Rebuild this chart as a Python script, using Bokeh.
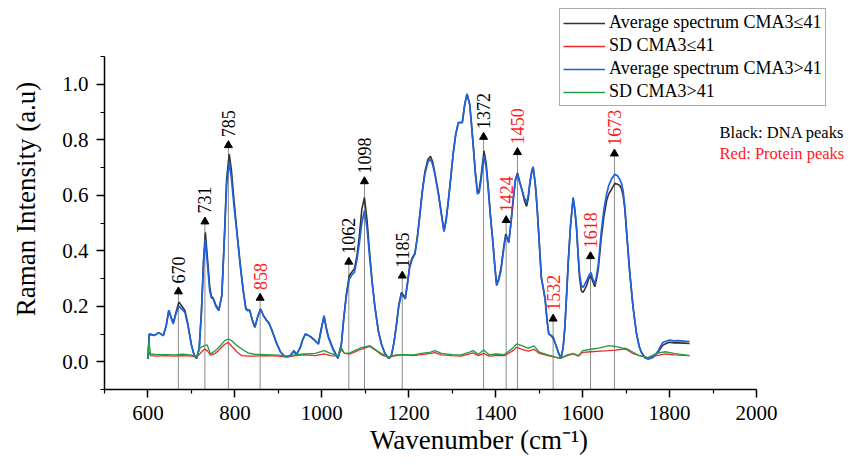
import math
from bokeh.plotting import figure
from bokeh.models import Range1d, FixedTicker, NumeralTickFormatter, Label
from bokeh.embed import file_html
from bokeh.resources import INLINE

# ---------------- data ----------------
wavenumber = [600, 603, 615, 625, 635, 642, 648, 653, 658, 664, 671, 678, 685, 692, 700, 706, 712, 718, 723, 728,
              732, 737, 742, 746, 750, 756, 763, 770, 776, 781, 787, 792, 798, 804, 812, 819, 825, 829, 834, 840,
              846, 852, 859, 866, 873, 878, 884, 895, 905, 915, 926, 931, 936, 941, 950, 956, 962, 969, 976, 985,
              992, 998, 1005, 1010, 1015, 1025, 1037, 1045, 1050, 1056, 1063, 1070, 1075, 1081, 1086, 1092, 1098, 1104, 1110, 1116,
              1122, 1130, 1137, 1145, 1154, 1160, 1166, 1172, 1177, 1183, 1188, 1192, 1197, 1202, 1208, 1214, 1220, 1225, 1231, 1237,
              1244, 1250, 1255, 1260, 1268, 1275, 1281, 1286, 1291, 1297, 1302, 1308, 1314, 1323, 1329, 1334, 1340, 1344, 1348, 1353,
              1358, 1362, 1366, 1373, 1378, 1383, 1388, 1393, 1398, 1402, 1407, 1412, 1418, 1423, 1427, 1430, 1435, 1440, 1445, 1450,
              1455, 1461, 1466, 1471, 1475, 1478, 1483, 1486, 1491, 1495, 1498, 1505, 1510, 1514, 1518, 1522, 1527, 1532, 1536, 1540,
              1545, 1550, 1555, 1559, 1563, 1567, 1572, 1578, 1582, 1586, 1590, 1593, 1597, 1601, 1605, 1609, 1614, 1619, 1623, 1628,
              1632, 1636, 1643, 1649, 1655, 1660, 1666, 1674, 1680, 1685, 1689, 1693, 1697, 1701, 1708, 1716, 1724, 1730, 1735, 1743,
              1751, 1762, 1768, 1774, 1780, 1785, 1792, 1800, 1810, 1820, 1834, 1846]

avg_le41 = [0.01, 0.10, 0.095, 0.105, 0.094, 0.13, 0.186, 0.16, 0.14, 0.175, 0.215, 0.2, 0.185, 0.135, 0.06, 0.025, 0.012, 0.05, 0.18, 0.37,
            0.466, 0.37, 0.27, 0.235, 0.23, 0.205, 0.186, 0.24, 0.46, 0.66, 0.748, 0.69, 0.58, 0.48, 0.355, 0.26, 0.195, 0.185, 0.186, 0.15,
            0.124, 0.16, 0.19, 0.165, 0.15, 0.14, 0.118, 0.07, 0.035, 0.019, 0.02, 0.03, 0.04, 0.025, 0.05, 0.08, 0.1, 0.095, 0.088, 0.075,
            0.064, 0.115, 0.165, 0.125, 0.09, 0.05, 0.012, 0.064, 0.15, 0.24, 0.31, 0.325, 0.335, 0.385, 0.45, 0.55, 0.592, 0.51, 0.39, 0.285,
            0.2, 0.11, 0.064, 0.03, 0.012, 0.022, 0.07, 0.14, 0.205, 0.25, 0.24, 0.23, 0.285, 0.345, 0.375, 0.39, 0.455, 0.525, 0.615, 0.685,
            0.73, 0.74, 0.72, 0.68, 0.61, 0.535, 0.47, 0.515, 0.58, 0.67, 0.748, 0.82, 0.862, 0.862, 0.93, 0.965, 0.929, 0.86, 0.784, 0.685,
            0.61, 0.62, 0.665, 0.76, 0.715, 0.625, 0.525, 0.44, 0.345, 0.28, 0.3, 0.335, 0.41, 0.46, 0.445, 0.43, 0.5, 0.58, 0.655, 0.68,
            0.65, 0.615, 0.58, 0.56, 0.59, 0.635, 0.685, 0.7, 0.64, 0.56, 0.484, 0.3, 0.26, 0.22, 0.15, 0.1, 0.095, 0.085, 0.07, 0.052,
            0.03, 0.012, 0.05, 0.124, 0.24, 0.364, 0.49, 0.59, 0.545, 0.475, 0.37, 0.3, 0.255, 0.25, 0.262, 0.275, 0.3, 0.31, 0.29, 0.27,
            0.3, 0.335, 0.45, 0.525, 0.58, 0.605, 0.62, 0.643, 0.64, 0.635, 0.625, 0.6, 0.55, 0.465, 0.325, 0.195, 0.1, 0.055, 0.034, 0.015,
            0.01, 0.016, 0.026, 0.036, 0.05, 0.06, 0.066, 0.07, 0.068, 0.068, 0.067, 0.066]

avg_gt41 = [0.01, 0.10, 0.095, 0.105, 0.094, 0.13, 0.186, 0.16, 0.136, 0.17, 0.20, 0.19, 0.178, 0.13, 0.06, 0.025, 0.012, 0.05, 0.18, 0.36,
            0.44, 0.35, 0.256, 0.23, 0.227, 0.2, 0.184, 0.24, 0.45, 0.64, 0.718, 0.66, 0.56, 0.472, 0.35, 0.256, 0.19, 0.184, 0.186, 0.15,
            0.124, 0.16, 0.19, 0.165, 0.148, 0.14, 0.118, 0.07, 0.035, 0.019, 0.02, 0.03, 0.04, 0.025, 0.05, 0.08, 0.1, 0.095, 0.088, 0.075,
            0.064, 0.11, 0.166, 0.12, 0.088, 0.046, 0.012, 0.064, 0.15, 0.232, 0.298, 0.315, 0.322, 0.37, 0.424, 0.5, 0.544, 0.48, 0.376, 0.28,
            0.196, 0.11, 0.064, 0.03, 0.012, 0.022, 0.07, 0.136, 0.2, 0.244, 0.235, 0.226, 0.28, 0.34, 0.37, 0.388, 0.45, 0.52, 0.61, 0.676,
            0.72, 0.73, 0.71, 0.676, 0.604, 0.53, 0.47, 0.51, 0.58, 0.67, 0.748, 0.82, 0.862, 0.862, 0.93, 0.965, 0.929, 0.86, 0.784, 0.68,
            0.604, 0.61, 0.652, 0.742, 0.7, 0.616, 0.52, 0.436, 0.34, 0.274, 0.295, 0.328, 0.4, 0.454, 0.44, 0.43, 0.5, 0.58, 0.65, 0.676,
            0.645, 0.616, 0.59, 0.574, 0.6, 0.64, 0.69, 0.703, 0.64, 0.56, 0.484, 0.304, 0.26, 0.22, 0.15, 0.1, 0.095, 0.09, 0.07, 0.052,
            0.03, 0.012, 0.05, 0.124, 0.24, 0.364, 0.49, 0.592, 0.55, 0.484, 0.38, 0.316, 0.274, 0.268, 0.28, 0.292, 0.31, 0.322, 0.3, 0.28,
            0.31, 0.352, 0.472, 0.55, 0.604, 0.635, 0.658, 0.676, 0.67, 0.658, 0.645, 0.616, 0.56, 0.472, 0.328, 0.196, 0.1, 0.055, 0.034, 0.015,
            0.01, 0.016, 0.028, 0.04, 0.058, 0.07, 0.074, 0.078, 0.075, 0.076, 0.074, 0.073]

sd_wavenumber = [600, 602, 606, 620, 640, 660, 680, 700, 712, 720, 730, 736, 744, 755, 765, 776, 785, 793, 805, 816,
                 830, 845, 870, 900, 920, 940, 960, 985, 1005, 1020, 1037, 1045, 1052, 1065, 1075, 1090, 1110, 1125, 1137, 1154,
                 1170, 1190, 1210, 1230, 1250, 1260, 1275, 1300, 1320, 1340, 1348, 1360, 1372, 1385, 1400, 1420, 1440, 1448, 1460, 1475,
                 1488, 1500, 1520, 1548, 1565, 1578, 1590, 1600, 1620, 1640, 1660, 1675, 1690, 1700, 1715, 1730, 1750, 1770, 1790, 1810, 1846]

sd_le41 = [0.01, 0.035, 0.022, 0.02, 0.022, 0.02, 0.022, 0.02, 0.017, 0.03, 0.046, 0.04, 0.024, 0.03, 0.045, 0.062, 0.07, 0.055, 0.035, 0.022,
           0.02, 0.02, 0.022, 0.02, 0.017, 0.022, 0.025, 0.022, 0.028, 0.022, 0.02, 0.043, 0.03, 0.028, 0.035, 0.045, 0.055, 0.04, 0.025, 0.016,
           0.022, 0.025, 0.022, 0.026, 0.03, 0.033, 0.025, 0.022, 0.02, 0.028, 0.032, 0.022, 0.03, 0.02, 0.022, 0.022, 0.04, 0.052, 0.045, 0.038,
           0.045, 0.03, 0.022, 0.012, 0.022, 0.028, 0.02, 0.034, 0.036, 0.038, 0.04, 0.042, 0.045, 0.045, 0.03, 0.022, 0.015, 0.022, 0.028, 0.025, 0.022]

sd_gt41 = [0.01, 0.076, 0.028, 0.026, 0.026, 0.025, 0.027, 0.024, 0.018, 0.05, 0.058, 0.061, 0.028, 0.04, 0.055, 0.075, 0.082, 0.076, 0.058, 0.046,
           0.032, 0.027, 0.026, 0.024, 0.02, 0.026, 0.028, 0.03, 0.04, 0.03, 0.022, 0.05, 0.03, 0.032, 0.04, 0.05, 0.058, 0.042, 0.03, 0.016,
           0.025, 0.026, 0.025, 0.03, 0.035, 0.04, 0.03, 0.026, 0.025, 0.035, 0.04, 0.027, 0.042, 0.025, 0.028, 0.026, 0.05, 0.064, 0.058, 0.048,
           0.057, 0.035, 0.025, 0.012, 0.025, 0.03, 0.022, 0.04, 0.045, 0.05, 0.058, 0.055, 0.05, 0.048, 0.035, 0.022, 0.015, 0.03, 0.036, 0.03, 0.022]

peak_positions = [670, 731, 785, 858, 1062, 1098, 1185, 1372, 1424, 1450, 1532, 1618, 1673]
peak_labels = ["670", "731", "785", "858", "1062", "1098", "1185", "1372", "1424", "1450", "1532", "1618", "1673"]
peak_arrow_heights = [0.253, 0.505, 0.78, 0.23, 0.36, 0.65, 0.31, 0.81, 0.51, 0.755, 0.155, 0.38, 0.75]
peak_kind = ["DNA", "DNA", "DNA", "Protein", "DNA", "DNA", "DNA", "DNA", "Protein", "Protein", "Protein", "Protein", "Protein"]

x_major_ticks = [600, 800, 1000, 1200, 1400, 1600, 1800, 2000]
x_minor_ticks = [500, 700, 900, 1100, 1300, 1500, 1700, 1900]
y_major_ticks = [0.0, 0.2, 0.4, 0.6, 0.8, 1.0]
y_minor_ticks = [-0.1, 0.1, 0.3, 0.5, 0.7, 0.9, 1.1]

# ---------------- figure ----------------
FONT = "Liberation Serif"
C_BLACK = "#333333"
C_RED = "#ee2a2a"
C_BLUE = "#1f62dc"
C_GREEN = "#1f9e45"
C_LABEL_RED = "#ff1a1a"

p = figure(frame_width=749, frame_height=381, output_backend="svg", toolbar_location=None,
           x_range=Range1d(500, 2223), y_range=Range1d(-0.1, 1.273),
           min_border_left=104, min_border_right=0, min_border_top=8, min_border_bottom=0)
p.outline_line_color = None
p.xgrid.visible = False
p.ygrid.visible = False
p.background_fill_color = "white"
p.border_fill_color = "white"

for ax in (p.xaxis[0], p.yaxis[0]):
    ax.axis_line_width = 1.5
    ax.axis_line_color = "black"
    ax.major_tick_line_width = 1.5
    ax.minor_tick_line_width = 1.2
    ax.major_tick_out = 8
    ax.major_tick_in = 0
    ax.minor_tick_out = 4
    ax.minor_tick_in = 0
    ax.major_label_text_font = FONT
    ax.major_label_text_font_size = "21px"
    ax.major_label_text_color = "black"
    ax.axis_label_text_font = FONT
    ax.axis_label_text_font_size = "27px"
    ax.axis_label_text_font_style = "normal"
    ax.axis_label_text_color = "black"

p.xaxis[0].ticker = FixedTicker(ticks=x_major_ticks, minor_ticks=x_minor_ticks)
p.xaxis[0].bounds = (500, 2000)
p.xaxis[0].axis_label = "Wavenumber (cm\u207b\u00b9)"
p.xaxis[0].major_label_standoff = 8
p.xaxis[0].axis_label_standoff = 2

p.yaxis[0].ticker = FixedTicker(ticks=y_major_ticks, minor_ticks=y_minor_ticks)
p.yaxis[0].bounds = (-0.1, 1.1)
p.yaxis[0].formatter = NumeralTickFormatter(format="0.0")
p.yaxis[0].axis_label = "Raman Intensity (a.u)"
p.yaxis[0].major_label_standoff = 8
p.yaxis[0].axis_label_standoff = 18

# peak marker lines
p.segment(x0=peak_positions, y0=[-0.1] * len(peak_positions), x1=peak_positions, y1=peak_arrow_heights,
          line_color="#8c8c8c", line_width=1)

# spectra
p.line(wavenumber, avg_le41, line_color=C_BLACK, line_width=1.6, legend_label="Average spectrum CMA3\u226441")
p.line(sd_wavenumber, sd_le41, line_color=C_RED, line_width=1.3, legend_label="SD CMA3\u226441")
p.line(wavenumber, avg_gt41, line_color=C_BLUE, line_width=1.7, legend_label="Average spectrum CMA3>41")
p.line(sd_wavenumber, sd_gt41, line_color=C_GREEN, line_width=1.3, legend_label="SD CMA3>41")

# arrowheads and peak labels
p.scatter(x=peak_positions, y=peak_arrow_heights, marker="triangle", size=8,
          fill_color="black", line_color="black")

label_colors = ["black" if k == "DNA" else C_LABEL_RED for k in peak_kind]
p.text(x=peak_positions, y=peak_arrow_heights, text=peak_labels, angle=math.pi / 2,
       text_align="left", text_baseline="middle", y_offset=-8,
       text_font={"value": FONT}, text_font_size="18px", text_color=label_colors)

# side notes
p.add_layout(Label(x=1915, y=0.825, text="Black: DNA peaks", text_font=FONT, text_font_size="16.5px",
                   text_color="black", text_baseline="middle"))
p.add_layout(Label(x=1915, y=0.75, text="Red: Protein peaks", text_font=FONT, text_font_size="16.5px",
                   text_color=C_LABEL_RED, text_baseline="middle"))

lg = p.legend[0]
lg.location = (455, 283)
lg.label_text_font = FONT
lg.label_text_font_size = "18px"
lg.label_text_color = "black"
lg.glyph_width = 42
lg.glyph_height = 20
lg.label_height = 20
lg.spacing = 2
lg.padding = 3
lg.margin = 0
lg.label_standoff = 4
lg.border_line_color = "#555555"
lg.border_line_width = 1
lg.background_fill_alpha = 1.0

open("out.html", "w").write(file_html(p, INLINE))
